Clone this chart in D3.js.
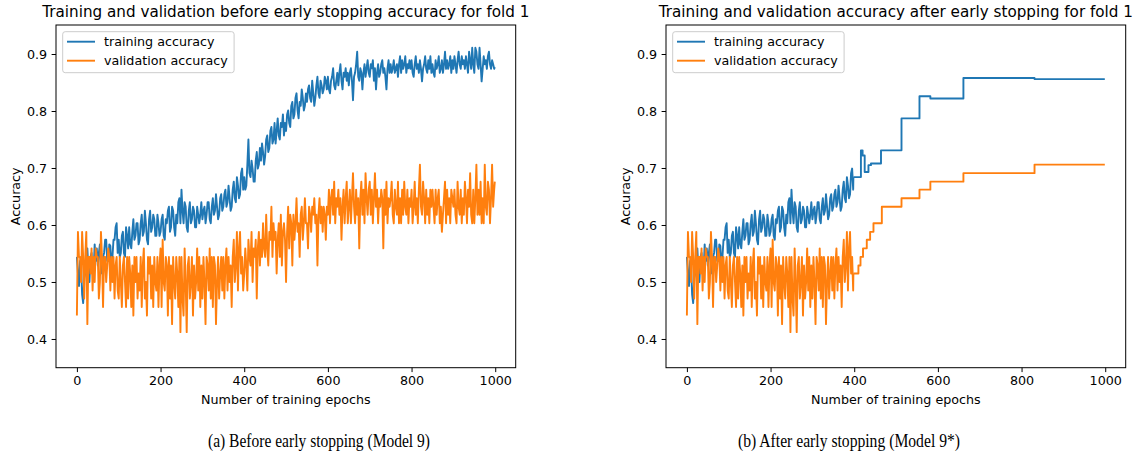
<!DOCTYPE html>
<html>
<head>
<meta charset="utf-8">
<script src="https://cdn.jsdelivr.net/npm/d3@7"></script>
<style>
  body { margin: 0; background: #fff; }
  svg { display: block; }
  text { font-family: "DejaVu Sans", sans-serif; fill: #000; }
  text.caption { font-family: "Liberation Serif", "Times New Roman", serif; }
</style>
</head>
<body>
<svg id="chart" width="1142" height="459"></svg>
<script>
// ---------------- data ----------------
const epochStep = 2.5;        // one sample every 2.5 epochs, last sample = epoch 999
const lastEpoch = 999;

// training accuracy, left panel (full 1000 epochs)
const trainAcc = [
  0.544,0.515,0.493,0.537,0.529,0.478,0.463,0.507,0.515,0.551,
  0.559,0.522,0.500,0.544,0.551,0.515,0.522,0.566,0.537,0.559,
  0.529,0.551,0.566,0.522,0.515,0.544,0.551,0.574,0.574,0.537,
  0.537,0.566,0.563,0.529,0.544,0.574,0.574,0.596,0.603,0.551,
  0.574,0.544,0.551,0.581,0.588,0.551,0.544,0.596,0.581,0.559,
  0.596,0.566,0.559,0.588,0.610,0.574,0.581,0.603,0.603,0.566,
  0.574,0.603,0.618,0.581,0.588,0.625,0.603,0.574,0.566,0.610,
  0.625,0.588,0.596,0.618,0.610,0.581,0.581,0.618,0.603,0.581,
  0.588,0.610,0.618,0.581,0.574,0.610,0.603,0.625,0.632,0.588,
  0.596,0.632,0.625,0.596,0.581,0.618,0.603,0.640,0.647,0.603,
  0.662,0.625,0.603,0.640,0.632,0.596,0.588,0.625,0.640,0.603,
  0.610,0.632,0.625,0.596,0.596,0.632,0.618,0.603,0.618,0.640,
  0.610,0.625,0.632,0.603,0.618,0.640,0.640,0.610,0.603,0.632,
  0.647,0.618,0.625,0.654,0.632,0.610,0.618,0.647,0.654,0.625,
  0.632,0.654,0.662,0.632,0.640,0.669,0.647,0.625,0.632,0.662,
  0.676,0.647,0.640,0.684,0.669,0.647,0.654,0.691,0.699,0.662,
  0.684,0.662,0.669,0.706,0.750,0.691,0.684,0.713,0.699,0.676,
  0.676,0.713,0.728,0.699,0.706,0.735,0.713,0.743,0.728,0.706,
  0.721,0.750,0.757,0.728,0.735,0.765,0.772,0.743,0.750,0.779,
  0.743,0.765,0.787,0.757,0.750,0.779,0.772,0.794,0.757,0.779,
  0.765,0.794,0.801,0.779,0.772,0.809,0.816,0.787,0.794,0.823,
  0.831,0.801,0.787,0.816,0.809,0.838,0.823,0.801,0.809,0.831,
  0.816,0.838,0.845,0.823,0.816,0.853,0.831,0.809,0.823,0.845,
  0.860,0.831,0.823,0.853,0.845,0.831,0.838,0.860,0.853,0.838,
  0.860,0.838,0.831,0.853,0.860,0.875,0.845,0.838,0.853,0.867,
  0.845,0.867,0.882,0.853,0.838,0.867,0.860,0.875,0.853,0.867,
  0.845,0.867,0.875,0.853,0.819,0.860,0.867,0.882,0.904,0.860,
  0.853,0.875,0.867,0.838,0.867,0.882,0.860,0.875,0.889,0.867,
  0.860,0.882,0.875,0.889,0.853,0.875,0.838,0.867,0.882,0.860,
  0.867,0.882,0.889,0.867,0.875,0.860,0.838,0.875,0.889,0.867,
  0.882,0.867,0.875,0.889,0.867,0.875,0.882,0.860,0.882,0.896,
  0.867,0.889,0.874,0.882,0.896,0.867,0.882,0.875,0.889,0.874,
  0.889,0.867,0.860,0.882,0.896,0.874,0.882,0.867,0.889,0.874,
  0.852,0.874,0.882,0.896,0.874,0.867,0.889,0.874,0.896,0.867,
  0.882,0.867,0.860,0.889,0.874,0.882,0.896,0.867,0.874,0.889,
  0.867,0.882,0.904,0.874,0.889,0.874,0.882,0.896,0.867,0.889,
  0.874,0.896,0.882,0.867,0.889,0.904,0.882,0.874,0.896,0.882,
  0.889,0.874,0.896,0.882,0.867,0.904,0.889,0.874,0.911,0.882,
  0.867,0.911,0.904,0.882,0.874,0.911,0.882,0.852,0.874,0.896,
  0.882,0.889,0.874,0.896,0.904,0.882,0.874,0.889,0.882,0.874,
  0.877
];

// validation accuracy, left panel (full 1000 epochs)
const valAcc = [
  0.441,0.588,0.544,0.544,0.500,0.588,0.544,0.471,0.544,0.588,
  0.426,0.544,0.544,0.515,0.559,0.485,0.544,0.500,0.559,0.544,
  0.544,0.471,0.500,0.588,0.544,0.456,0.544,0.544,0.500,0.529,
  0.559,0.544,0.485,0.544,0.500,0.544,0.471,0.529,0.544,0.485,
  0.471,0.544,0.500,0.456,0.529,0.544,0.500,0.456,0.544,0.471,
  0.544,0.515,0.456,0.529,0.441,0.544,0.500,0.544,0.471,0.515,
  0.485,0.544,0.456,0.529,0.559,0.471,0.500,0.441,0.544,0.515,
  0.544,0.471,0.529,0.456,0.544,0.500,0.485,0.544,0.456,0.529,
  0.559,0.456,0.574,0.500,0.485,0.544,0.529,0.441,0.544,0.471,
  0.529,0.426,0.544,0.500,0.471,0.544,0.515,0.456,0.544,0.412,
  0.544,0.471,0.441,0.559,0.500,0.412,0.529,0.544,0.471,0.500,
  0.544,0.441,0.529,0.471,0.500,0.559,0.485,0.544,0.456,0.529,
  0.471,0.544,0.500,0.426,0.544,0.529,0.485,0.559,0.471,0.544,
  0.456,0.544,0.529,0.426,0.500,0.544,0.471,0.515,0.544,0.485,
  0.544,0.471,0.529,0.559,0.485,0.544,0.500,0.529,0.456,0.544,
  0.574,0.500,0.529,0.588,0.485,0.559,0.588,0.515,0.544,0.485,
  0.515,0.559,0.529,0.485,0.574,0.544,0.529,0.588,0.500,0.559,
  0.544,0.574,0.471,0.559,0.588,0.529,0.574,0.544,0.603,0.559,
  0.544,0.618,0.559,0.529,0.588,0.574,0.632,0.544,0.603,0.574,
  0.588,0.515,0.574,0.603,0.544,0.618,0.529,0.588,0.603,0.574,
  0.500,0.588,0.632,0.559,0.618,0.603,0.529,0.618,0.574,0.603,
  0.647,0.588,0.603,0.544,0.618,0.632,0.574,0.603,0.647,0.603,
  0.603,0.559,0.632,0.618,0.588,0.632,0.618,0.647,0.603,0.618,
  0.529,0.618,0.647,0.603,0.632,0.588,0.632,0.618,0.574,0.632,
  0.618,0.662,0.603,0.647,0.662,0.618,0.676,0.603,0.647,0.632,
  0.662,0.618,0.647,0.574,0.632,0.662,0.603,0.647,0.676,0.603,
  0.632,0.662,0.603,0.647,0.691,0.632,0.603,0.662,0.618,0.647,
  0.559,0.647,0.676,0.618,0.662,0.603,0.691,0.647,0.618,0.662,
  0.676,0.618,0.662,0.603,0.647,0.691,0.632,0.662,0.603,0.647,
  0.632,0.662,0.647,0.559,0.662,0.618,0.676,0.603,0.647,0.632,
  0.647,0.676,0.618,0.603,0.662,0.632,0.618,0.676,0.603,0.647,
  0.603,0.662,0.618,0.676,0.632,0.618,0.662,0.603,0.647,0.632,
  0.662,0.603,0.632,0.676,0.618,0.647,0.603,0.662,0.706,0.632,
  0.618,0.676,0.647,0.603,0.662,0.618,0.647,0.603,0.662,0.632,
  0.662,0.632,0.603,0.662,0.618,0.647,0.662,0.603,0.632,0.588,
  0.618,0.647,0.676,0.603,0.662,0.618,0.647,0.603,0.662,0.647,
  0.632,0.662,0.618,0.603,0.676,0.632,0.618,0.662,0.603,0.647,
  0.618,0.676,0.647,0.603,0.662,0.632,0.691,0.618,0.603,0.662,
  0.603,0.647,0.706,0.618,0.662,0.618,0.676,0.603,0.647,0.603,
  0.706,0.632,0.618,0.676,0.662,0.603,0.647,0.706,0.632,0.662,
  0.676
];

// right panel: same run up to early stop, then held (step) values
const stopSampleCount = 160;  // samples for epochs 0..397.5 shared with left panel
const trainTailEpochs = [398, 416, 420, 425, 434, 440, 464, 513, 556, 582, 661, 831, 999];
const trainTailValues = [0.684,0.731,0.722,0.693,0.705,0.708,0.731,0.787,0.826,0.822,0.858,0.856,0.856];
const valTailEpochs   = [398, 410, 415, 421, 430, 438, 446, 466, 513, 556, 582, 661, 831, 999];
const valTailValues   = [0.515,0.529,0.544,0.559,0.574,0.588,0.603,0.632,0.647,0.662,0.676,0.691,0.706,0.706];

const xTicks = [0, 200, 400, 600, 800, 1000];
const yTicks = [0.4, 0.5, 0.6, 0.7, 0.8, 0.9];
const yLimits = [0.3496, 0.9509];

const titles = [
  "Training and validation before early stopping accuracy for fold 1",
  "Training and validation accuracy after early stopping for fold 1"
];
const captions = [
  "(a) Before early stopping (Model 9)",
  "(b) After early stopping (Model 9*)"
];
const seriesNames = ["training accuracy", "validation accuracy"];
const colors = ["#1f77b4", "#ff7f0e"];

// ---------------- drawing ----------------
const svg = d3.select("#chart");
const epochOf = i => Math.min(i * epochStep, lastEpoch);
const toPts = arr => arr.map((v, i) => [epochOf(i), v]);
const zipPts = (e, v) => e.map((d, i) => [d, v[i]]);

const axTop = 25, axBottom = 367.7;
const panels = [
  { left: 56,  right: 515.7, capX: 319 },
  { left: 666, right: 1125.7, capX: 849 }
];

const xPad = 0.05 * lastEpoch;
const FS = 12.7;

panels.forEach((p, pi) => {
  const x = d3.scaleLinear().domain([-xPad, lastEpoch + xPad]).range([p.left, p.right]);
  const y = d3.scaleLinear().domain(yLimits).range([axBottom, axTop]);
  const g = svg.append("g");
  const cx = (p.left + p.right) / 2;

  const line = d3.line().x(d => x(d[0])).y(d => y(d[1]));
  const stepLine = d3.line().x(d => x(d[0])).y(d => y(d[1])).curve(d3.curveStepAfter);

  const drawPath = (pts, gen, color) =>
    g.append("path").datum(pts).attr("d", gen)
      .attr("fill", "none").attr("stroke", color).attr("stroke-width", 1.9)
      .attr("stroke-linejoin", "round");

  if (pi === 0) {
    drawPath(toPts(trainAcc), line, colors[0]);
    drawPath(toPts(valAcc), line, colors[1]);
  } else {
    const tHead = toPts(trainAcc.slice(0, stopSampleCount));
    const vHead = toPts(valAcc.slice(0, stopSampleCount));
    const tTail = zipPts(trainTailEpochs, trainTailValues);
    const vTail = zipPts(valTailEpochs, valTailValues);
    drawPath(tHead.concat([tTail[0]]), line, colors[0]);
    drawPath(tTail, stepLine, colors[0]);
    drawPath(vHead.concat([vTail[0]]), line, colors[1]);
    drawPath(vTail, stepLine, colors[1]);
  }

  // axes
  const xa = g.append("g").attr("transform", `translate(0,${axBottom})`)
    .call(d3.axisBottom(x).tickValues(xTicks).tickFormat(d3.format("d")).tickSize(4.4).tickPadding(4.2));
  const ya = g.append("g").attr("transform", `translate(${p.left},0)`)
    .call(d3.axisLeft(y).tickValues(yTicks).tickFormat(d3.format(".1f")).tickSize(4.4).tickPadding(4.4));
  [xa, ya].forEach(a => {
    a.select(".domain").remove();
    a.selectAll(".tick line").attr("stroke", "#000").attr("stroke-width", 1);
    a.selectAll(".tick text").attr("font-size", FS).attr("font-family", "DejaVu Sans").attr("fill", "#000");
  });

  // spines
  g.append("rect").attr("x", p.left).attr("y", axTop)
    .attr("width", p.right - p.left).attr("height", axBottom - axTop)
    .attr("fill", "none").attr("stroke", "#000").attr("stroke-width", 1);

  // title & labels
  g.append("text").attr("x", cx).attr("y", 17.4).attr("text-anchor", "middle")
    .attr("font-size", 15.2).text(titles[pi]);
  g.append("text").attr("x", cx).attr("y", 404).attr("text-anchor", "middle")
    .attr("font-size", FS).text("Number of training epochs");
  g.append("text").attr("transform", `translate(${p.left - 36.5},${(axTop + axBottom) / 2}) rotate(-90)`)
    .attr("text-anchor", "middle").attr("font-size", FS).text("Accuracy");

  // legend
  const lg = g.append("g").attr("transform", `translate(${p.left},0)`);
  lg.append("rect").attr("x", 6.7).attr("y", 31.7).attr("width", 171.4).attr("height", 41)
    .attr("rx", 2.5).attr("fill", "#fff").attr("fill-opacity", 0.8)
    .attr("stroke", "#cccccc").attr("stroke-width", 1);
  seriesNames.forEach((nm, i) => {
    const ly = 41.7 + i * 19;
    lg.append("line").attr("x1", 11).attr("x2", 39).attr("y1", ly).attr("y2", ly)
      .attr("stroke", colors[i]).attr("stroke-width", 1.9);
    lg.append("text").attr("x", 48).attr("y", ly).attr("dy", "0.36em")
      .attr("font-size", FS).text(nm);
  });

  // caption (condensed serif, as in the source document)
  svg.append("text").attr("class", "caption").attr("x", p.capX).attr("y", 447)
    .attr("text-anchor", "middle").attr("font-size", 18.5)
    .attr("textLength", 222).attr("lengthAdjust", "spacingAndGlyphs")
    .text(captions[pi]);
});
</script>
</body>
</html>
